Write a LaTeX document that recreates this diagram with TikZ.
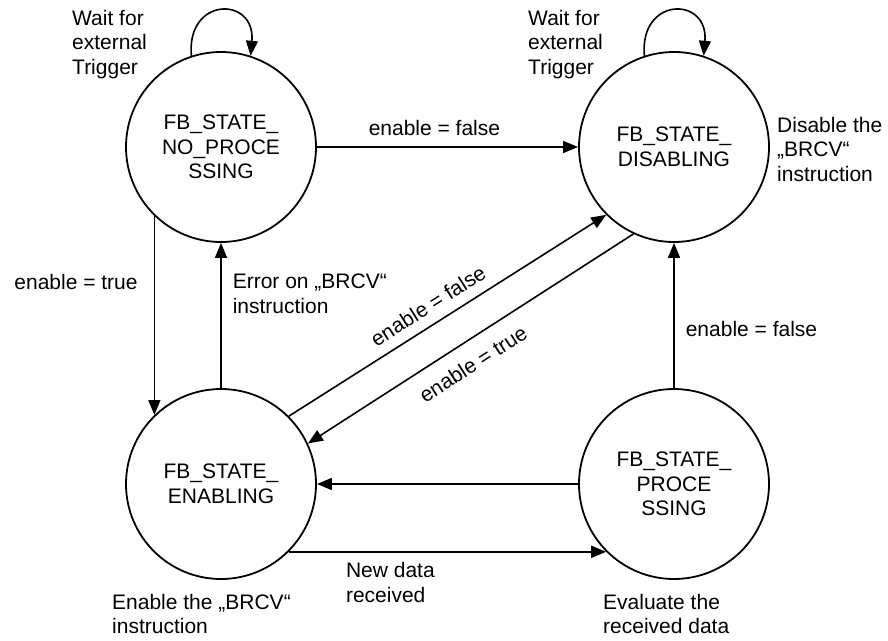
\documentclass[tikz,border=0pt]{standalone}
\usepackage{fontspec}
\setmainfont{Liberation Sans}
\usetikzlibrary{arrows.meta,positioning,calc}
\tikzset{
  fbstate/.style={circle, draw=black, line width=1.8pt, minimum size=190pt, inner sep=0pt,
                  align=center, font=\fontsize{21}{24.5}\selectfont},
  lbl/.style={align=left, font=\fontsize{21}{24.5}\selectfont, inner sep=2pt},
  arr/.style={-{Triangle[length=15pt,width=12pt]}, line width=1.6pt},
  rarr/.style={{Triangle[length=15pt,width=12pt]}-, line width=1.6pt},
}
\begin{document}
\begin{tikzpicture}[x=1pt,y=1pt]
  \useasboundingbox (0,0) rectangle (888,-640);
  \node[fbstate] (np) at (221,-147) {FB\_STATE\_\\NO\_PROCE\\SSING};
  \node[fbstate] (dis) at (674,-147) {FB\_STATE\_\\DISABLING};
  \node[fbstate] (en) at (221,-484) {FB\_STATE\_\\ENABLING};
  \node[fbstate] (proc) at (674,-484) {FB\_STATE\_\\PROCE\\SSING};
  \node[lbl, anchor=north west] (waitnp) at (70,-8) {Wait for\\external\\Trigger};
  \node[lbl, anchor=north west] (waitdis) at (526,-8) {Wait for\\external\\Trigger};
  \node[lbl, anchor=north west] (disact) at (775,-115) {Disable the\\„BRCV“\\instruction};
  \node[lbl, anchor=north west] (enact) at (110,-592) {Enable the „BRCV“\\instruction};
  \node[lbl, anchor=north west] (procact) at (601,-592) {Evaluate the\\received data};
  \draw[arr] (np.108) .. controls +(95:60) and +(85:60) .. (np.72);
  \draw[arr] (dis.108) .. controls +(95:60) and +(85:60) .. (dis.72);
  \draw[arr] (np) -- node[lbl, above=8pt, pos=0.45] {enable = false} (dis);
  \draw[arr] (np.226) -- node[lbl, left=14pt, pos=0.33] {enable = true} (en.134);
  \draw[arr] (en) -- node[lbl, right=9pt, pos=0.65] {Error on „BRCV“\\instruction} (np);
  \draw[arr] (en.45) -- node[lbl, above=8pt, pos=0.47, sloped] {enable = false} (dis.225);
  \draw[rarr] (en.25) -- node[lbl, below=12pt, pos=0.47, sloped] {enable = true} (dis.245);
  \draw[arr] (proc) -- node[lbl, right=9pt, pos=0.41] {enable = false} (dis);
  \draw[arr] (proc) -- (en);
  \draw[arr] (en.-45) -- node[lbl, below=8pt, pos=0.32] {New data\\received} (proc.225);
\end{tikzpicture}
\end{document}
